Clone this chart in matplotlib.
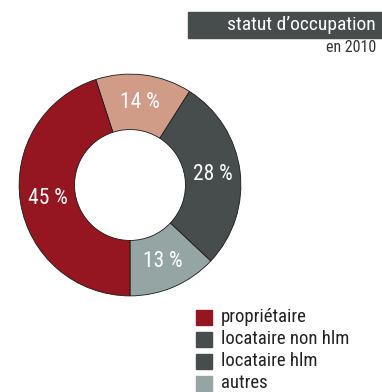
"""Anneau de répartition par statut d'occupation (PNG)."""

import matplotlib

matplotlib.use("Agg")
import matplotlib.pyplot as plt
from matplotlib import font_manager
from matplotlib.patches import Rectangle

# parts dans l'ordre de tracé (anti-horaire à partir du bas)
statuts = ["autres", "locataire hlm", "locataire non hlm", "propriétaire"]
parts = [13, 28, 14, 45]
couleurs = ["#95a5a3", "#474d4d", "#d09c88", "#951621"]

legende_libelles = ["propriétaire", "locataire non hlm", "locataire hlm", "autres"]
legende_couleurs = ["#951621", "#474d4d", "#474d4d", "#95a5a3"]

titre = "statut d\u2019occupation"
sous_titre = "en 2010"

W, H = 382, 392

# police étroite si disponible
noms = {f.name for f in font_manager.fontManager.ttflist}
etroites = [n for n in ["Liberation Sans Narrow", "Roboto Condensed",
                        "DejaVu Sans Condensed"] if n in noms]
police = etroites + ["Roboto", "DejaVu Sans"]

fig = plt.figure(figsize=(W / 100, H / 100), dpi=100)

# anneau : centre (130, 185) px, rayon 112 px
cx, cy, r = 130, 185, 112
ax = fig.add_axes([(cx - r) / W, (H - cy - r) / H, 2 * r / W, 2 * r / H])
wedges, textes, pct = ax.pie(
    parts, colors=couleurs, startangle=-90, counterclock=True,
    radius=1.0, autopct=lambda v: f"{v:.0f} %", pctdistance=0.75,
    wedgeprops=dict(width=0.5, edgecolor="#1a1a1a", linewidth=0.6),
    textprops=dict(color="white", fontsize=15.5, family=police,
                   stretch="condensed"),
)
ax.set_xlim(-1.01, 1.01)
ax.set_ylim(-1.01, 1.01)
ax.set_aspect("equal")
ax.axis("off")

# bandeau de titre
fig.patches.append(Rectangle((188 / W, 1 - 38 / H), (W - 188) / W, 26 / H,
                             transform=fig.transFigure, color="#474d4d"))
fig.text(376 / W, 1 - 25 / H, titre, color="white", fontsize=14,
         family=police, stretch="condensed", ha="right", va="center")
fig.text(376 / W, 1 - 47 / H, sous_titre, color="#333333", fontsize=11.5,
         family=police, stretch="condensed", ha="right", va="center")

# légende
for i, (lib, coul) in enumerate(zip(legende_libelles, legende_couleurs)):
    y = 310 + 22 * i
    fig.patches.append(Rectangle((196 / W, 1 - (y + 15) / H), 16 / W, 15 / H,
                                 transform=fig.transFigure, color=coul))
    fig.text(221 / W, 1 - (y + 7.5) / H, lib, color="#222222", fontsize=13.5,
             family=police, stretch="condensed", ha="left", va="center")

fig.savefig("out.png", dpi=100)
plt.close(fig)
